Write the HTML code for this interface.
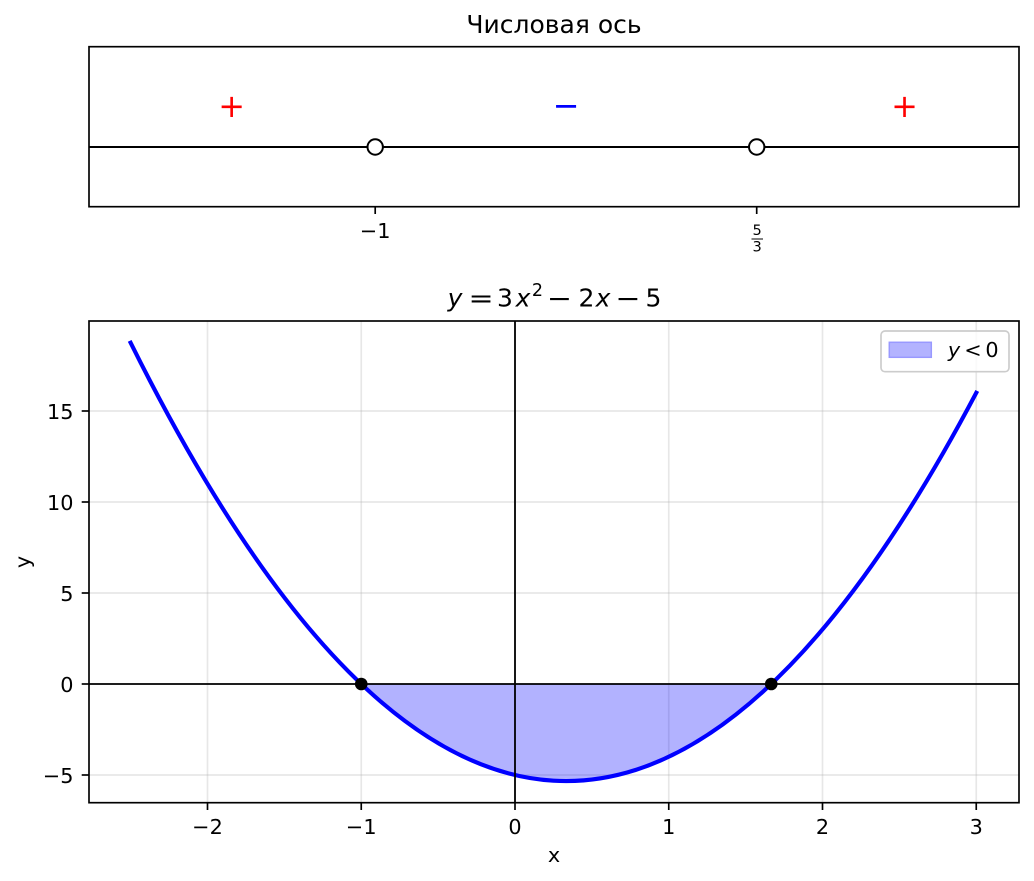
<!DOCTYPE html>
<html>
<head>
<meta charset="utf-8">
<style>
html,body{margin:0;padding:0;background:#fff;}
svg{display:block;}
text{font-family:"DejaVu Sans","Liberation Sans",sans-serif;fill:#000;}
</style>
</head>
<body>
<svg width="1034" height="881" viewBox="0 0 1034 881" xmlns="http://www.w3.org/2000/svg">
<rect x="0" y="0" width="1034" height="881" fill="#fff"/>

<!-- ===== Top axes: number line ===== -->
<text x="554" y="33" font-size="25" text-anchor="middle">Числовая ось</text>
<line x1="89" y1="147" x2="1019" y2="147" stroke="#000" stroke-width="2"/>
<circle cx="375.2" cy="147" r="7.7" fill="#fff" stroke="#000" stroke-width="2"/>
<circle cx="756.7" cy="147" r="7.7" fill="#fff" stroke="#000" stroke-width="2"/>
<text x="231.7" y="116.9" font-size="32" text-anchor="middle" style="fill:#ff0000">+</text>
<text x="566" y="116.6" font-size="32" text-anchor="middle" style="fill:#0000ff">−</text>
<text x="904.5" y="116.9" font-size="32" text-anchor="middle" style="fill:#ff0000">+</text>
<rect x="89" y="46.7" width="930" height="160" fill="none" stroke="#000" stroke-width="1.67"/>
<line x1="375.2" y1="206.7" x2="375.2" y2="214" stroke="#000" stroke-width="1.67"/>
<line x1="756.7" y1="206.7" x2="756.7" y2="214" stroke="#000" stroke-width="1.67"/>
<text x="375.2" y="238" font-size="20.8" text-anchor="middle">−1</text>
<text x="757.2" y="235" font-size="14.6" text-anchor="middle">5</text>
<line x1="751.5" y1="239" x2="763" y2="239" stroke="#000" stroke-width="1"/>
<text x="757.2" y="251.5" font-size="14.6" text-anchor="middle">3</text>

<!-- ===== Bottom axes title ===== -->
<g font-size="25" text-anchor="middle">
  <text x="455" y="306.5" font-style="italic">y</text>
  <text transform="translate(481,307) scale(1.2,1)">=</text>
  <text x="505" y="306.5">3</text>
  <text x="523" y="306.5" font-style="italic">x</text>
  <text x="537.5" y="296" font-size="17.5">2</text>
  <text transform="translate(559.5,307) scale(1.2,1)">−</text>
  <text x="586.5" y="306.5">2</text>
  <text x="603" y="306.5" font-style="italic">x</text>
  <text transform="translate(628,307) scale(1.2,1)">−</text>
  <text x="653.5" y="306.5">5</text>
</g>

<defs>
  <clipPath id="ax2"><rect x="89" y="321" width="930" height="481.7"/></clipPath>
</defs>

<g clip-path="url(#ax2)">
  <g stroke="#b0b0b0" stroke-opacity="0.3" stroke-width="1.67">
    <line x1="207.5" y1="321" x2="207.5" y2="803"/>
    <line x1="361.25" y1="321" x2="361.25" y2="803"/>
    <line x1="515" y1="321" x2="515" y2="803"/>
    <line x1="668.75" y1="321" x2="668.75" y2="803"/>
    <line x1="822.5" y1="321" x2="822.5" y2="803"/>
    <line x1="976.25" y1="321" x2="976.25" y2="803"/>
    <line x1="89" y1="411" x2="1019" y2="411"/>
    <line x1="89" y1="502" x2="1019" y2="502"/>
    <line x1="89" y1="593" x2="1019" y2="593"/>
    <line x1="89" y1="684" x2="1019" y2="684"/>
    <line x1="89" y1="775" x2="1019" y2="775"/>
  </g>
  <path d="M361.25,684 Q566.25,878.13 771.25,684 Z" fill="#0000ff" fill-opacity="0.3" stroke="none"/>
  <path d="M130.625,342.75 Q553.44,1193.6 976.25,392.8" fill="none" stroke="#0000ff" stroke-width="4.17" stroke-linecap="square"/>
  <line x1="89" y1="684" x2="1019" y2="684" stroke="#000" stroke-width="1.8"/>
  <line x1="515" y1="321" x2="515" y2="803" stroke="#000" stroke-width="1.8"/>
  <circle cx="361.25" cy="684" r="6.3" fill="#000"/>
  <circle cx="771.25" cy="684" r="6.3" fill="#000"/>
</g>

<rect x="89" y="321" width="930" height="481.7" fill="none" stroke="#000" stroke-width="1.67"/>

<g stroke="#000" stroke-width="1.67">
  <line x1="207.5" y1="802.7" x2="207.5" y2="810"/>
  <line x1="361.25" y1="802.7" x2="361.25" y2="810"/>
  <line x1="515" y1="802.7" x2="515" y2="810"/>
  <line x1="668.75" y1="802.7" x2="668.75" y2="810"/>
  <line x1="822.5" y1="802.7" x2="822.5" y2="810"/>
  <line x1="976.25" y1="802.7" x2="976.25" y2="810"/>
  <line x1="81.7" y1="411" x2="89" y2="411"/>
  <line x1="81.7" y1="502" x2="89" y2="502"/>
  <line x1="81.7" y1="593" x2="89" y2="593"/>
  <line x1="81.7" y1="684" x2="89" y2="684"/>
  <line x1="81.7" y1="775" x2="89" y2="775"/>
</g>
<g font-size="20.8" text-anchor="middle">
  <text x="207.5" y="834">−2</text>
  <text x="361.25" y="834">−1</text>
  <text x="515" y="834">0</text>
  <text x="668.75" y="834">1</text>
  <text x="822.5" y="834">2</text>
  <text x="976.25" y="834">3</text>
</g>
<g font-size="20.8" text-anchor="end">
  <text x="73.5" y="419">15</text>
  <text x="73.5" y="510">10</text>
  <text x="73.5" y="601">5</text>
  <text x="73.5" y="692">0</text>
  <text x="73.5" y="783">−5</text>
</g>
<text x="554" y="862" font-size="20.8" text-anchor="middle">x</text>
<text transform="translate(29.5,562) rotate(-90)" font-size="20.8" text-anchor="middle">y</text>

<rect x="881" y="331" width="128" height="40.7" rx="4" ry="4" fill="#fff" fill-opacity="0.8" stroke="#cccccc" stroke-width="1.67"/>
<rect x="889.3" y="342.3" width="42" height="15" fill="#b3b3ff" stroke="#9999ff" stroke-width="1.5"/>
<g font-size="20.8" text-anchor="middle">
  <text x="954" y="357" font-style="italic">y</text>
  <text x="973" y="357">&lt;</text>
  <text x="992" y="357">0</text>
</g>
</svg>
</body>
</html>
